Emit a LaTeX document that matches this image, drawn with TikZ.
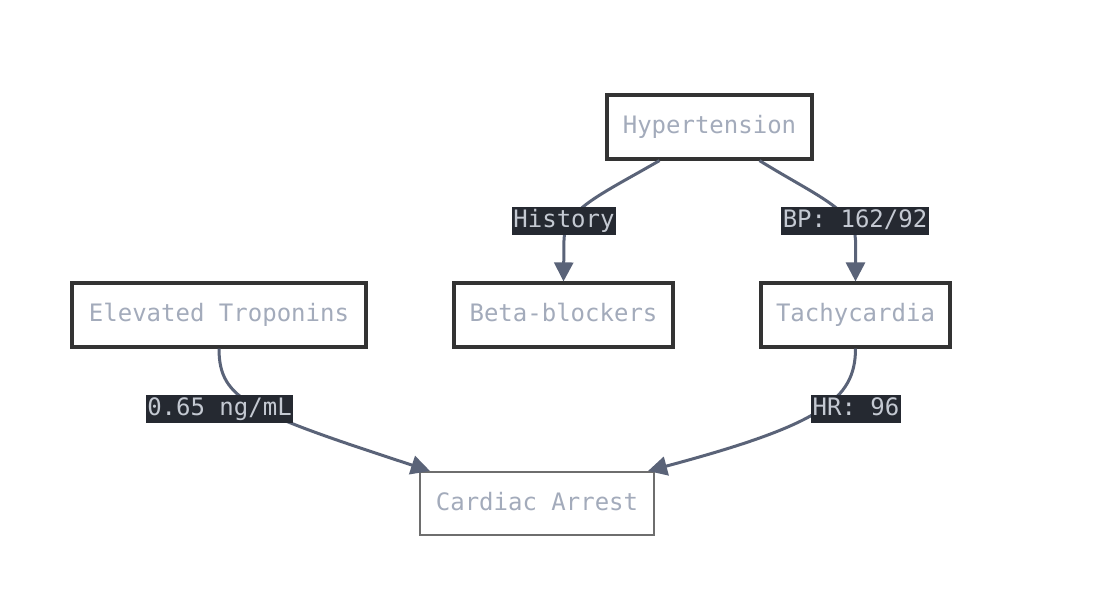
\documentclass[tikz,border=0pt]{standalone}
\usepackage{fontspec}
\setmonofont{DejaVu Sans Mono}
\usetikzlibrary{arrows.meta}
\definecolor{boxline}{HTML}{333333}
\definecolor{boxline2}{HTML}{6E6E6E}
\definecolor{txt}{HTML}{A3ABBB}
\definecolor{edgec}{HTML}{5A6378}
\definecolor{labbg}{HTML}{252931}
\definecolor{labtxt}{HTML}{C4C9D2}
\tikzset{
  box/.style={draw=boxline, line width=3.2pt, fill=white, inner sep=0pt,
    minimum height=64pt, text=txt, text height=17pt, text depth=4pt,
    font=\ttfamily\fontsize{24}{28}\selectfont},
  boxlight/.style={box, draw=boxline2, line width=2pt},
  elabel/.style={fill=labbg, text=labtxt, inner xsep=1.5pt, inner ysep=0pt,
    minimum height=28pt, text height=17pt, text depth=4pt,
    font=\ttfamily\fontsize{24}{28}\selectfont},
  edge/.style={draw=edgec, line width=3pt,
    -{Triangle[length=19pt,width=19pt]}},
}
\begin{document}
\begin{tikzpicture}[x=1pt,y=-1pt]
\path[use as bounding box, fill=white] (0,0) rectangle (1104,610);
\node[box, minimum width=205pt] (hyp) at (709.5,127) {Hypertension};
\node[box, minimum width=219pt] (beta) at (563.5,315) {Beta-blockers};
\node[box, minimum width=189pt] (tachy) at (855.5,315) {Tachycardia};
\node[box, minimum width=294pt] (trop) at (219,315) {Elevated Troponins};
\node[boxlight, minimum width=234pt, minimum height=63pt] (card) at (537,503.5) {Cardiac Arrest};

\draw[edge] ([xshift=-50pt]hyp.south) .. controls (600,195) and (564,210) .. (564,240) -- (beta.north);
\draw[edge] ([xshift=50pt]hyp.south) .. controls (815,195) and (855,210) .. (855.5,240) -- (tachy.north);
\draw[edge] (trop.south) .. controls (219,400) and (250,412) .. ([xshift=-107pt]card.north);
\draw[edge] (tachy.south) .. controls (855.5,400) and (820,425) .. ([xshift=111pt]card.north);

\node[elabel] (l1) at (564,221) {History};
\node[elabel] (l2) at (855,221) {BP: 162/92};
\node[elabel] (l3) at (219.5,409) {0.65 ng/mL};
\node[elabel] (l4) at (856,409) {HR: 96};
\end{tikzpicture}
\end{document}
